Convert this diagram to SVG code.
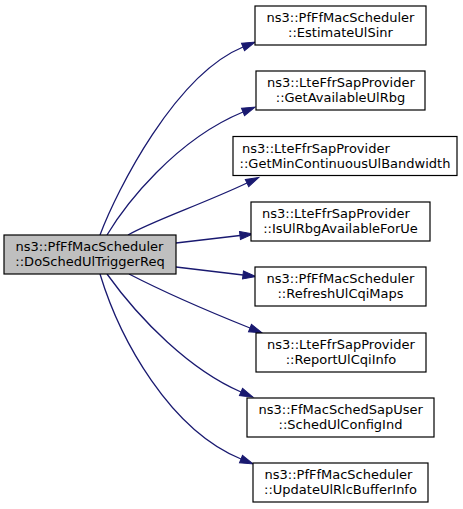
<svg xmlns="http://www.w3.org/2000/svg" width="463" height="509" viewBox="0 0 463 509">
<style>
.bg{fill:#ffffff}
.node rect{fill:#ffffff;stroke:#000000;stroke-width:1.2}
.node.main rect{fill:#bfbfbf}
.node text{font-family:"DejaVu Sans",sans-serif;font-size:13px;fill:#000000}
.l1{text-anchor:start}
.l2{text-anchor:middle}
.edge path{fill:none;stroke:#191970;stroke-width:1.3}
</style>
<defs>
<marker id="ah" markerUnits="userSpaceOnUse" markerWidth="14" markerHeight="10" refX="0" refY="4" orient="auto" overflow="visible">
<path d="M0,0 L13,4 L0,8 Z" fill="#191970" stroke="#191970" stroke-width="1"/>
</marker>
</defs>
<rect class="bg" x="0" y="0" width="463" height="509"/>
<g id="edges" class="edge">
<path d="M100,235 C117,190 175,75 243,47" marker-end="url(#ah)"/>
<path d="M107,235 C125,205 175,140 243,112" marker-end="url(#ah)"/>
<path d="M128,235 C150,222 205,203 247,183" marker-end="url(#ah)"/>
<path d="M176,243 L240,235.5" marker-end="url(#ah)"/>
<path d="M176,267 L243,275" marker-end="url(#ah)"/>
<path d="M129,274 C160,290 210,312 250,328" marker-end="url(#ah)"/>
<path d="M107,274 C140,320 190,370 241,392" marker-end="url(#ah)"/>
<path d="M100,274 C120,340 170,430 241,459" marker-end="url(#ah)"/>
</g>
<g id="node-main" class="node main">
<rect x="4" y="235" width="172" height="39"/>
<text class="l1" x="15.5" y="251">ns3::PfFfMacScheduler</text>
<text class="l2" x="90" y="266">::DoSchedUlTriggerReq</text>
</g>
<g id="node-estimate" class="node">
<rect x="255" y="6" width="171" height="39"/>
<text class="l1" x="266.5" y="22">ns3::PfFfMacScheduler</text>
<text class="l2" x="340.5" y="37">::EstimateUlSinr</text>
</g>
<g id="node-getavailable" class="node">
<rect x="256" y="71" width="169" height="39"/>
<text class="l1" x="267" y="87">ns3::LteFfrSapProvider</text>
<text class="l2" x="340.5" y="102">::GetAvailableUlRbg</text>
</g>
<g id="node-getmin" class="node">
<rect x="233" y="136.5" width="224" height="39"/>
<text class="l1" x="242" y="152.5">ns3::LteFfrSapProvider</text>
<text class="l2" x="345" y="167.5">::GetMinContinuousUlBandwidth</text>
</g>
<g id="node-isulrbg" class="node">
<rect x="251" y="202" width="179" height="39"/>
<text class="l1" x="262" y="218">ns3::LteFfrSapProvider</text>
<text class="l2" x="340.5" y="233">::IsUlRbgAvailableForUe</text>
</g>
<g id="node-refresh" class="node">
<rect x="255" y="267" width="171" height="39"/>
<text class="l1" x="266.5" y="283">ns3::PfFfMacScheduler</text>
<text class="l2" x="340.5" y="298">::RefreshUlCqiMaps</text>
</g>
<g id="node-report" class="node">
<rect x="256" y="333" width="170" height="39"/>
<text class="l1" x="267" y="349">ns3::LteFfrSapProvider</text>
<text class="l2" x="341" y="364">::ReportUlCqiInfo</text>
</g>
<g id="node-schedul" class="node">
<rect x="247" y="398" width="187" height="39"/>
<text class="l1" x="258.5" y="414">ns3::FfMacSchedSapUser</text>
<text class="l2" x="340.5" y="429">::SchedUlConfigInd</text>
</g>
<g id="node-update" class="node">
<rect x="253" y="463" width="175" height="39"/>
<text class="l1" x="264.5" y="479">ns3::PfFfMacScheduler</text>
<text class="l2" x="340.5" y="494">::UpdateUlRlcBufferInfo</text>
</g>
</svg>
